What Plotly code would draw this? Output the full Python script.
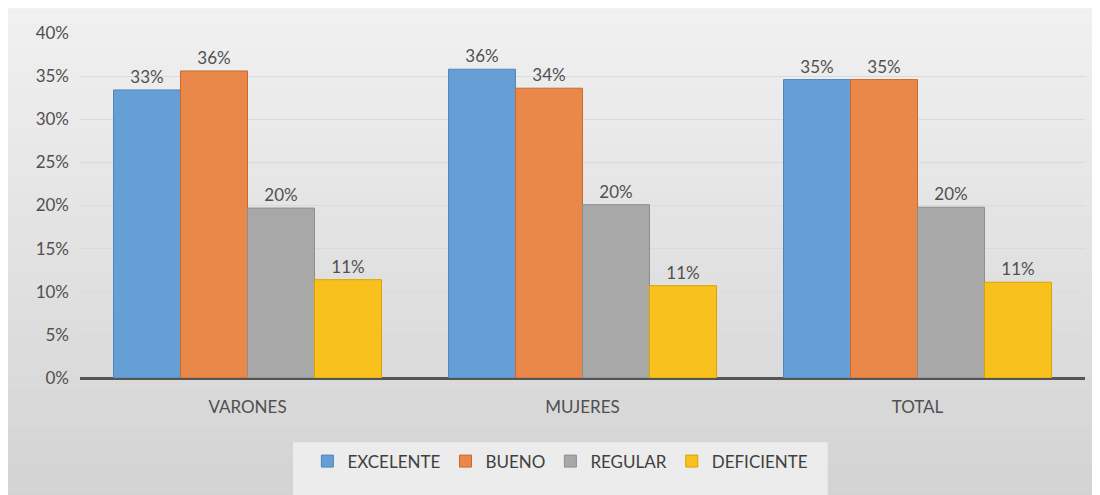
import plotly.graph_objects as go

categories = ["VARONES", "MUJERES", "TOTAL"]
series_names = ["EXCELENTE", "BUENO", "REGULAR", "DEFICIENTE"]
excelente = [0.334, 0.358, 0.346]
bueno = [0.356, 0.336, 0.346]
regular = [0.197, 0.201, 0.198]
deficiente = [0.114, 0.107, 0.111]
y_ticks = [0, 0.05, 0.10, 0.15, 0.20, 0.25, 0.30, 0.35, 0.40]

values = [excelente, bueno, regular, deficiente]
colors = ["#669fd6", "#ea884a", "#a8a8a8", "#f8c11e"]
edges = ["#4f86bd", "#c96a2c", "#8e8e8e", "#d9a300"]

FONT = "Lato, Open Sans, sans-serif"
TXT = "#505050"

fig = go.Figure()
for name, vals, c, e in zip(series_names, values, colors, edges):
    fig.add_trace(go.Bar(
        x=categories, y=vals, name=name,
        marker=dict(color=c, line=dict(color=e, width=1)),
        texttemplate="%{y:.0%}", textposition="outside",
        textfont=dict(size=17, color=TXT, family=FONT),
        cliponaxis=False,
    ))

# background gradient bands
n = 40
top = (241, 241, 241)
bot = (210, 210, 210)
shapes = []
for i in range(n):
    t = i / (n - 1)
    col = tuple(int(round(top[k] + (bot[k] - top[k]) * t)) for k in range(3))
    shapes.append(dict(type="rect", xref="paper", yref="paper",
                       x0=-0.1, x1=1.1,
                       y0=1.1 - (i + 1) * 1.5 / n, y1=1.1 - i * 1.5 / n,
                       fillcolor="rgb(%d,%d,%d)" % col, line=dict(width=0),
                       layer="below"))
# lighter legend panel
shapes.append(dict(type="rect", xref="paper", yref="paper",
                   x0=0.212, x1=0.744, y0=-0.5, y1=-0.186,
                   fillcolor="#ececec", line=dict(width=0), layer="below"))

fig.update_layout(
    width=1100, height=495,
    margin=dict(l=72, r=23, t=25, b=125, autoexpand=False),
    paper_bgcolor="#e2e2e2",
    plot_bgcolor="rgba(0,0,0,0)",
    shapes=shapes,
    barmode="group",
    bargap=0.2, bargroupgap=0,
    font=dict(family=FONT, color=TXT, size=17),
    xaxis=dict(showgrid=False, showline=False, ticks="", ticklabelstandoff=17,
               tickfont=dict(size=17, color=TXT, family=FONT)),
    yaxis=dict(range=[0, 0.40], tickvals=y_ticks, tickformat=".0%",
               showgrid=True, gridcolor="#dadada", gridwidth=1,
               zeroline=True, zerolinecolor="#555555", zerolinewidth=3,
               showline=False, ticks="", ticklabelstandoff=10,
               tickfont=dict(size=17, color=TXT, family=FONT)),
    legend=dict(orientation="h", x=0.478, xanchor="center", y=-0.19, yanchor="top",
                bgcolor="rgba(0,0,0,0)", font=dict(size=17, color="#404040", family=FONT),
                traceorder="normal", itemwidth=30, borderwidth=0),
    showlegend=True,
)

fig.write_html("out.html")
